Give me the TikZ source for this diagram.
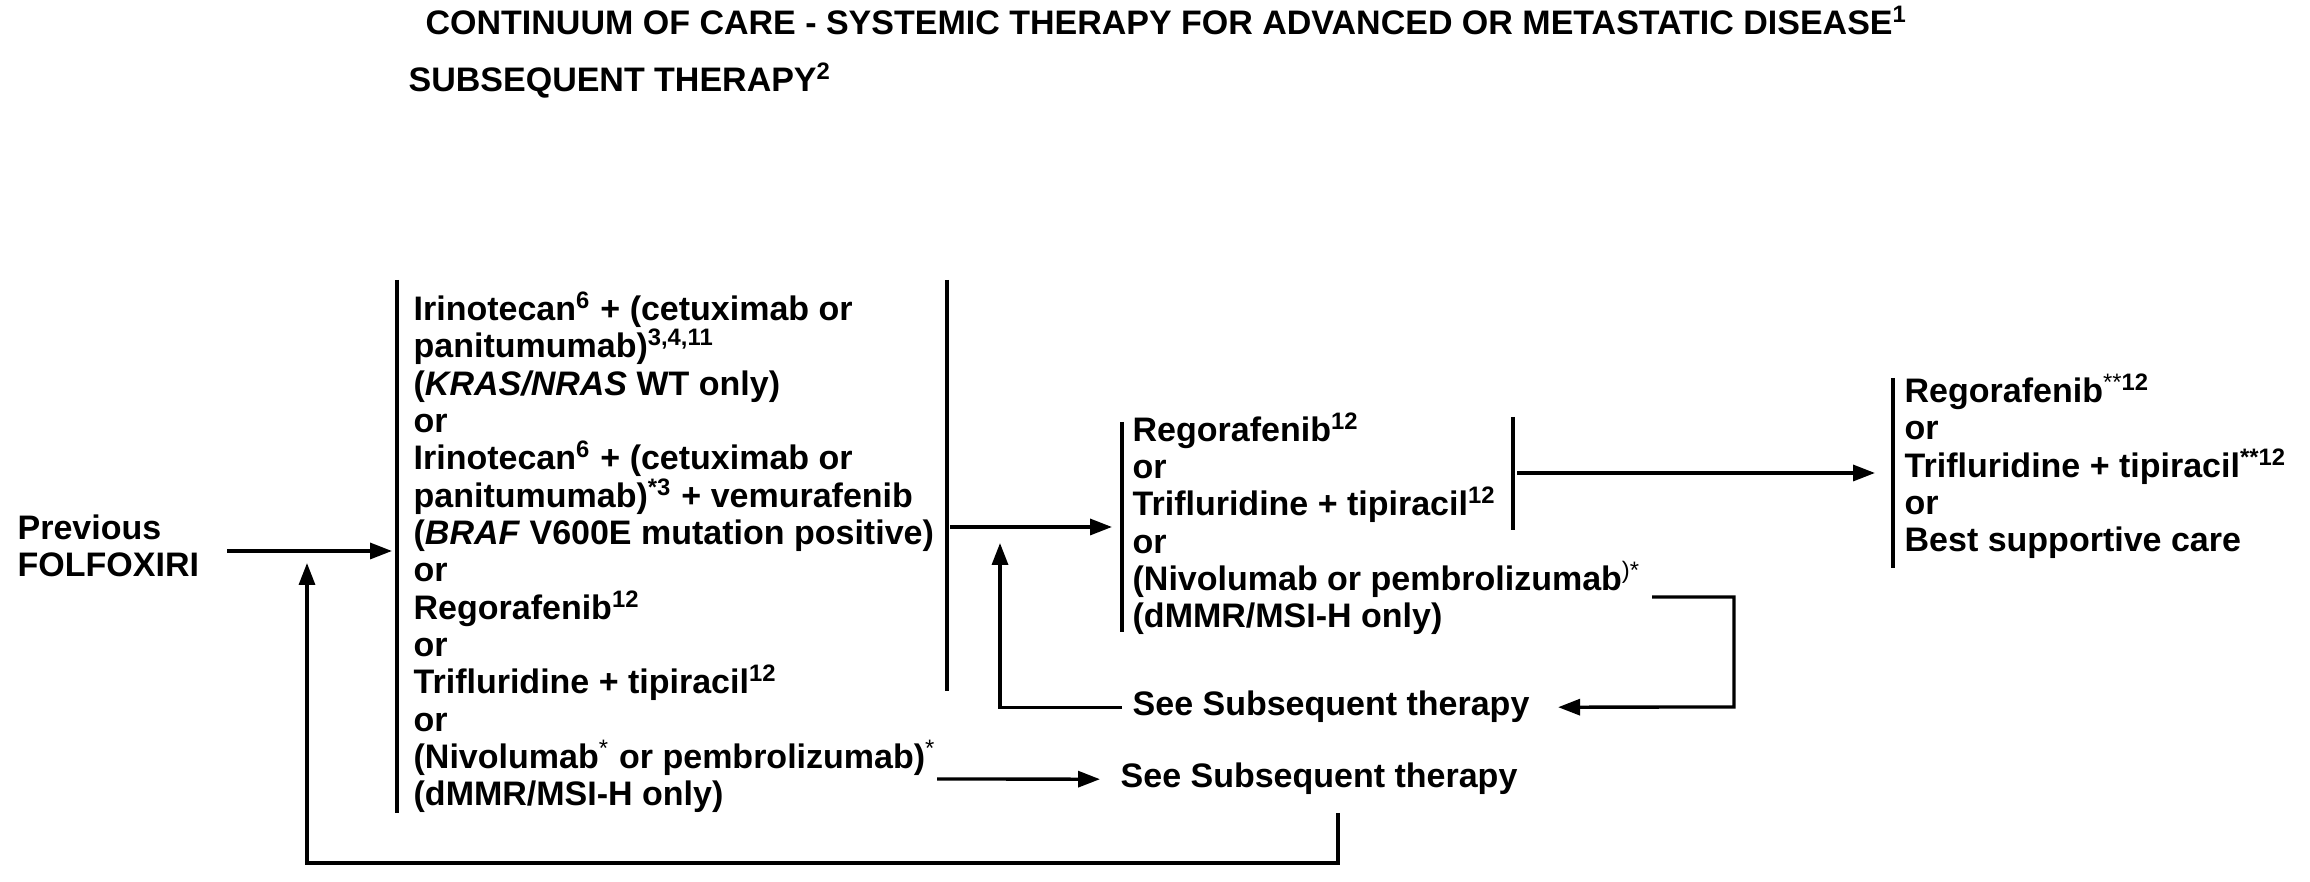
\documentclass[tikz,border=0pt]{standalone}
\usepackage{fontspec}
\setmainfont{Liberation Sans}
\usetikzlibrary{arrows.meta}
\lineskiplimit=-100pt

\begin{document}
\begin{tikzpicture}[x=0.3pt,y=-0.3pt]
  \tikzset{every node/.style={inner sep=0pt, anchor=base west, align=left,
      font=\fontsize{10.2pt}{11.2pt}\selectfont\bfseries}}
  \tikzset{ln/.style={line width=1pt}}
  \tikzset{arr/.style={line width=1pt, -{Triangle[length=6.6pt,width=4.8pt]}}}
  \useasboundingbox (0,0) rectangle (2310,882);

  % headings
  \node (title) at (425,35) {CONTINUUM OF CARE - SYSTEMIC THERAPY FOR ADVANCED OR METASTATIC DISEASE\textsuperscript{1}};
  \node (subtitle) at (408,92) {SUBSEQUENT THERAPY\textsuperscript{2}};

  % text blocks (placed by the baseline of their last line)
  \node (prev) at (17,577) {Previous\\FOLFOXIRI};
  \node (opt1) at (413,806) {Irinotecan\textsuperscript{6} + (cetuximab or\\
    panitumumab)\textsuperscript{3,4,11}\\
    (\textit{KRAS/NRAS} WT only)\\
    or\\
    Irinotecan\textsuperscript{6} + (cetuximab or\\
    panitumumab)\textsuperscript{*3} + vemurafenib\\
    (\textit{BRAF} V600E mutation positive)\\
    or\\
    Regorafenib\textsuperscript{12}\\
    or\\
    Trifluridine + tipiracil\textsuperscript{12}\\
    or\\
    (Nivolumab\textsuperscript{\mdseries*} or pembrolizumab)\textsuperscript{\mdseries*}\\
    (dMMR/MSI-H only)};
  \node (opt2) at (1132,628) {Regorafenib\textsuperscript{12}\\
    or\\
    Trifluridine + tipiracil\textsuperscript{12}\\
    or\\
    (Nivolumab or pembrolizumab\textsuperscript{\mdseries)*}\\
    (dMMR/MSI-H only)};
  \node (opt3) at (1904,552) {Regorafenib\textsuperscript{\mdseries**\bfseries12}\\
    or\\
    Trifluridine + tipiracil\textsuperscript{**12}\\
    or\\
    Best supportive care};
  \node (see1) at (1132,716) {See Subsequent therapy};
  \node (see2) at (1120,788) {See Subsequent therapy};

  % bars
  \coordinate (b1lt) at (397,280);
  \coordinate (b1lb) at (397,813);
  \coordinate (b1rt) at (947,280);
  \coordinate (b1rb) at (947,691);
  \coordinate (b2lt) at (1122,422);
  \coordinate (b2lb) at (1122,632);
  \coordinate (b2rt) at (1513,417);
  \coordinate (b2rb) at (1513,530);
  \coordinate (b3lt) at (1893,378);
  \coordinate (b3lb) at (1893,568);
  \draw[ln] (b1lt) -- (b1lb);
  \draw[ln] (b1rt) -- (b1rb);
  \draw[ln] (b2lt) -- (b2lb);
  \draw[ln] (b2rt) -- (b2rb);
  \draw[ln] (b3lt) -- (b3lb);

  % connector ends
  \coordinate (pv) at (227,551);
  \coordinate (in1) at (392,551);
  \coordinate (o1) at (950,527);
  \coordinate (in2) at (1112,527);
  \coordinate (o2) at (1517,473);
  \coordinate (in3) at (1875,473);
  \coordinate (up1) at (1000,543);
  \coordinate (n1) at (1652,597);
  \coordinate (n2) at (1734,707);
  \coordinate (n3) at (937,779);
  \coordinate (r1) at (1338,813);
  \coordinate (r2) at (307,863);
  \coordinate (r3) at (307,563);

  % arrows
  \draw[arr] (pv) -- (in1);
  \draw[arr] (o1) -- (in2);
  \draw[arr] (o2) -- (in3);
  \draw[arr] ([xshift=-3pt]see1.west) -| (up1);
  \draw[arr] (n1) -| (n2) -- ([xshift=8.4pt]see1.east);
  \draw[arr] (n3) -- ([xshift=-6pt]see2.west);
  \draw[arr] (r1) |- (r2) -- (r3);
\end{tikzpicture}
\end{document}
